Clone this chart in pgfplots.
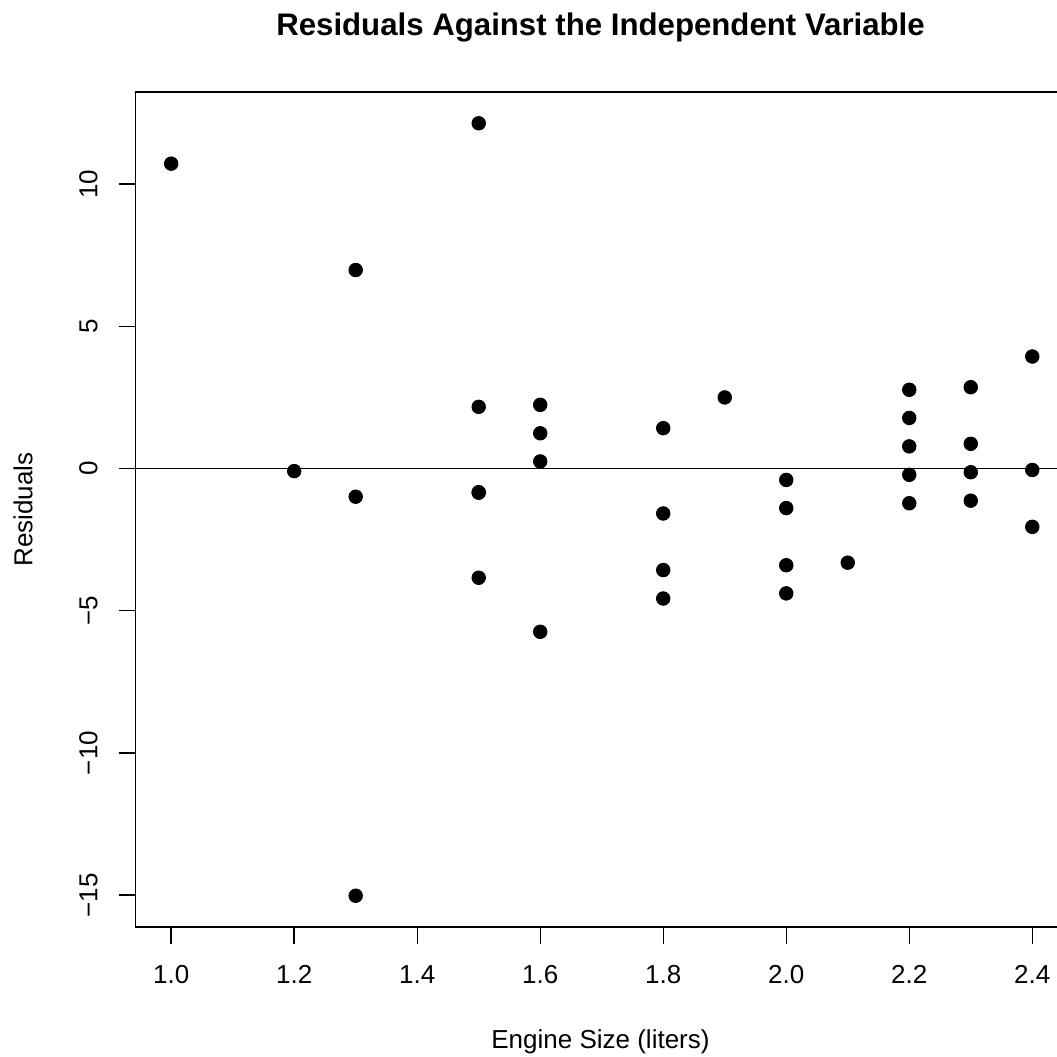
\documentclass[border=0pt]{standalone}
\usepackage{fontspec}
\setmainfont{Liberation Sans}
\usepackage{pgfplots}
\pgfplotsset{compat=1.18}

% residuals of the engine size fit
\pgfplotstableread{
x     r
1.0   10.72
1.2   -0.09
1.3    6.98
1.3   -0.99
1.3  -15.02
1.5   12.14
1.5    2.17
1.5   -0.83
1.5   -0.85
1.5   -3.84
1.6    2.24
1.6    1.24
1.6    0.25
1.6   -5.74
1.8    1.42
1.8   -1.58
1.8   -3.57
1.8   -4.57
1.9    2.50
2.0   -0.40
2.0   -1.39
2.0   -3.40
2.0   -4.39
2.1   -3.31
2.2    2.77
2.2    1.78
2.2    0.78
2.2   -0.22
2.2   -1.22
2.3    2.86
2.3    0.87
2.3   -0.13
2.3   -1.13
2.4    3.94
2.4   -0.05
2.4   -2.05
}\resid

\begin{document}
\begin{tikzpicture}
\useasboundingbox (-67.75pt,-65pt) rectangle (460.75pt,463.5pt);
\begin{axis}[
    at={(0,0)}, anchor=south west,
    scale only axis,
    width=465pt, height=417.5pt,
    xmin=0.942, xmax=2.454,
    ymin=-16.12, ymax=13.24,
    axis line style={line width=0.7pt},
    tick style={line width=0.7pt, black},
    major tick length=8.4pt,
    tick align=outside,
    tick pos=left,
    xtick={1,1.2,1.4,1.6,1.8,2,2.2,2.4},
    xticklabels={1.0,1.2,1.4,1.6,1.8,2.0,2.2,2.4},
    ytick={-15,-10,-5,0,5,10},
    yticklabels={−15,−10,−5,0,5,10},
    ticklabel style={font=\fontsize{13}{15.6}\selectfont, inner sep=0pt},
    xticklabel style={anchor=north},
    yticklabel style={rotate=90, anchor=base},
    xticklabel shift=10.6pt,
    yticklabel shift=10.6pt,
]
\addplot[only marks, mark=*, mark size=3.4pt, black] table[x=x, y=r] {\resid};
\draw[line width=0.7pt] (axis cs:0.942,0) -- (axis cs:2.454,0);
\end{axis}
\node[font=\bfseries\fontsize{15.6}{18.7}\selectfont] at (232.5pt,449.5pt) {Residuals Against the Independent Variable};
\node[font=\fontsize{13}{15.6}\selectfont] at (232.5pt,-57.5pt) {Engine Size (liters)};
\node[font=\fontsize{13}{15.6}\selectfont, rotate=90] at (-56.25pt,208.75pt) {Residuals};
\end{tikzpicture}
\end{document}
